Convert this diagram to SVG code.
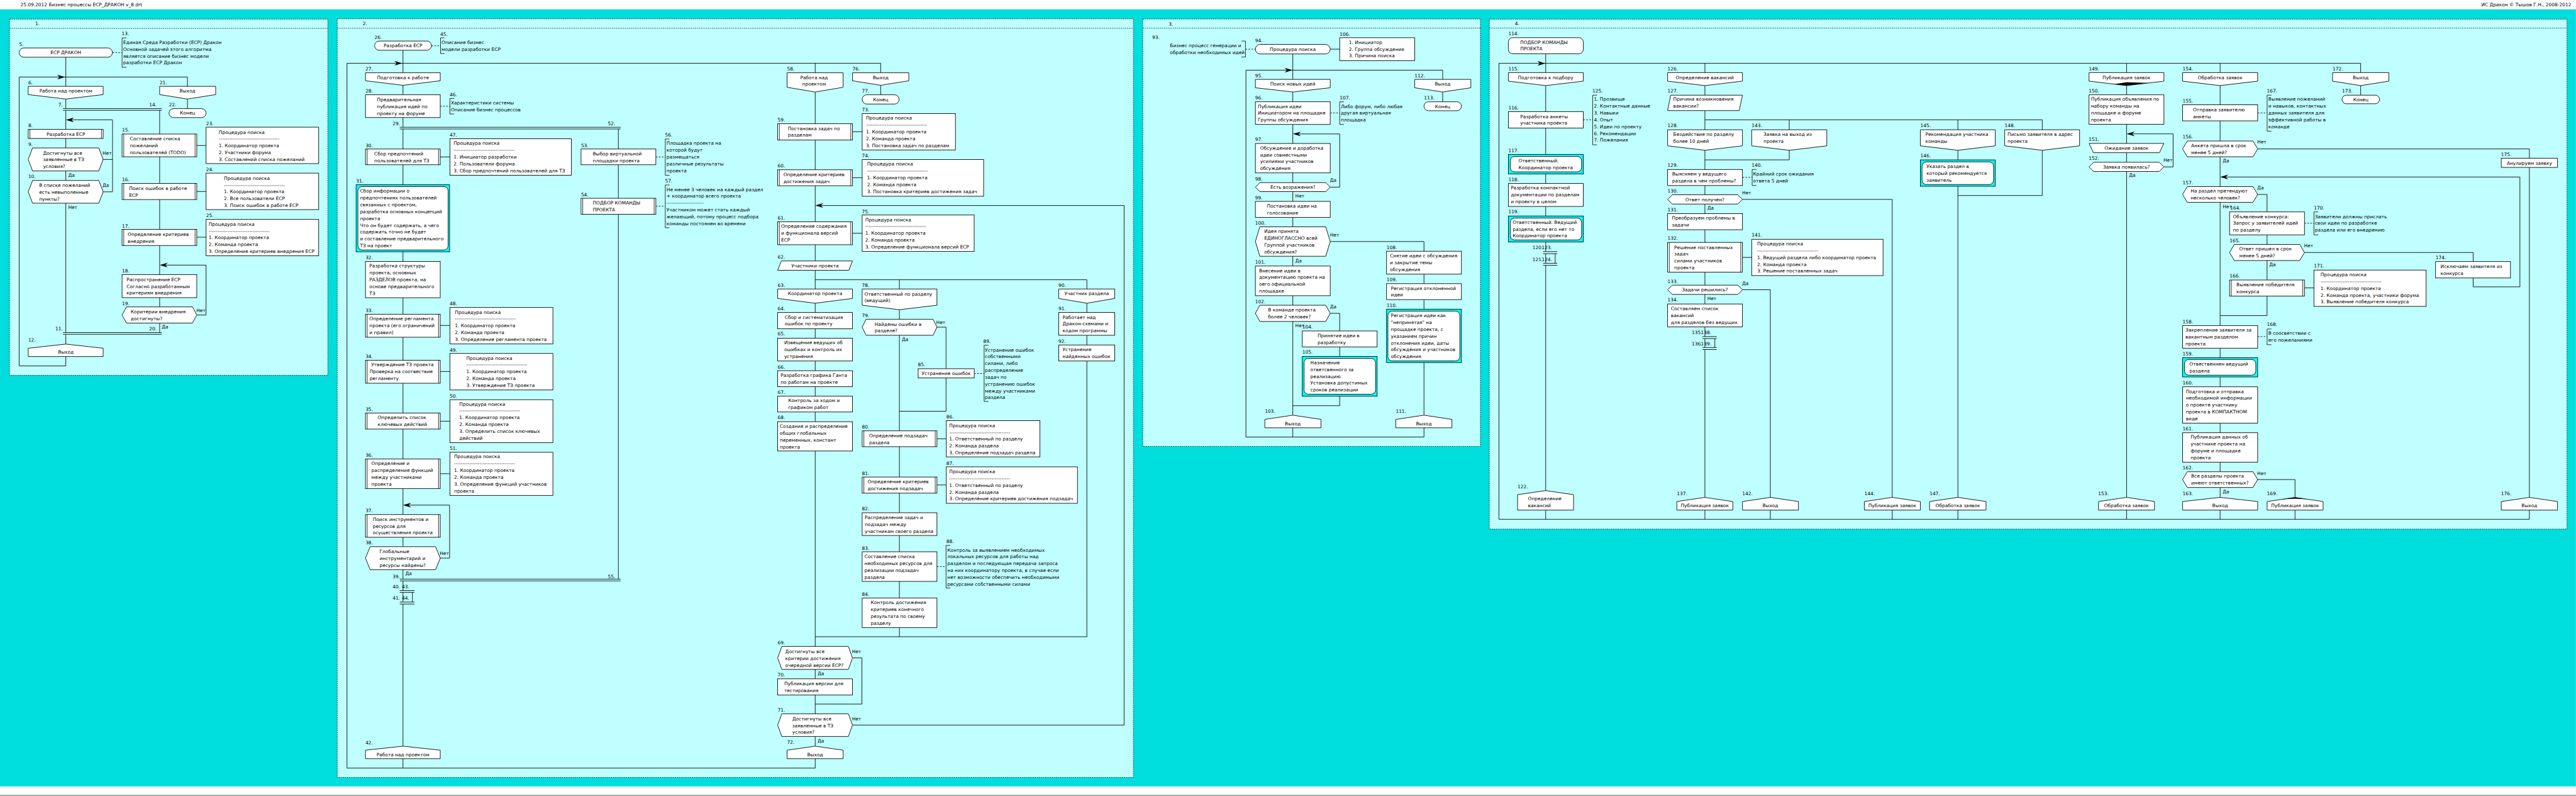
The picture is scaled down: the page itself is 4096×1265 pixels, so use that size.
<svg xmlns="http://www.w3.org/2000/svg" width="4096" height="1265" viewBox="0 0 4096 1265">
<style>
.n{fill:#fff;stroke:#000;stroke-width:1.3}
.hl{fill:#00FFFF;stroke:#000;stroke-width:1.3}
.c{fill:none;stroke:#000;stroke-width:1.3}
.d{fill:none;stroke:#000;stroke-width:1.2;stroke-dasharray:4 3}
.b{fill:none;stroke:#000;stroke-width:1.2}
.pf{fill:#BFFFFF;stroke:#000;stroke-width:1;stroke-dasharray:3 2}
.pd{fill:none;stroke:#000;stroke-width:1;stroke-dasharray:3 2}
.ar{fill:#000}
text{font-family:"DejaVu Sans","Liberation Sans",sans-serif;font-size:11px;fill:#000}
.m{text-anchor:middle}
</style>
<g transform="scale(0.677)">
<rect x="0" y="0" width="6050" height="1869" fill="#00DDDD"/>
<rect x="0" y="0" width="6050" height="22" fill="#fff"/>
<rect x="0" y="1846" width="6050" height="23" fill="#fff"/>
<line x1="0" y1="1867" x2="6050" y2="1867" stroke="#000" stroke-width="1"/>
<text x="48" y="15.5">25.09.2012  Бизнес процессы ЕСР_ДРАКОН v_8.drt</text>
<text x="6039" y="15.5" text-anchor="end">ИС Дракон © Тышов Г.Н., 2008-2012</text>

<g id="panels">
<rect class="pf" x="22.4" y="44.8" width="747.6" height="836.2"/><path class="pd" d="M22.4,66.6H770"/><text x="82.6" y="59.7">1.</text>
<rect class="pf" x="792" y="44" width="1870" height="1781"/><path class="pd" d="M792,66.4H2662"/><text x="852" y="59.2">2.</text>
<rect class="pf" x="2684" y="44.5" width="793" height="1003.5"/><path class="pd" d="M2684,66H3477"/><text x="2745" y="60.3">3.</text>
<rect class="pf" x="3498" y="45" width="2531" height="1197"/><path class="pd" d="M3498,66H6029"/><text x="3558" y="59.4">4.</text>
</g>

<g id="connectors">
<path class="c" d="M154.6,134.3V202.6M154.6,232.5V254.9M154.6,258.9V303.7M154.6,325V347.3M154.6,401.3V423.6M154.6,477V780.7M154.6,784.7V807.7M154.6,837V859H45V180.8H440.3V202.6M440.3,232.5V255M375,258.9V314.6M375,368V430.5M375,468.4V538.4M375,576.3V644.6M375,698.6V720.4M375,758.3V780.7M148,254.9H380M148,258.9H380M148,780.7H380M148,784.7H380M242.3,374.3H264.3M242.3,450.3H264.3V281.3H168M462.2,739.4H484V622.3H389M462.2,341.6H484M462.2,449.5H484M462.2,556.8H484"/>
<path class="d" d="M264,123.4H286.7"/>
<path class="c" d="M946.5,118V170.8M946.5,200.2V222.5M946.5,275.9V298.7M946.5,302.8V349.8M946.5,386.7V433.7M946.5,591V613.8M946.5,698.9V737.6M946.5,791.6V845.6M946.5,899.6V969.5M946.5,1007.2V1077.3M946.5,1146.8V1207.9M946.5,1261.2V1283.3M946.5,1337.2V1359.4M946.5,1363.6V1386.3M946.5,1390.5V1413.3M946.5,1418V1751.6M946.5,1781V1803M1914.7,1803H815V148.5H2068.4V170.8M1914.7,148.5V170.8M939,298.7H1457.8M939,302.8H1457.8M939,1359.4H1457.8M939,1363.6H1457.8M939,1386.3H973.5M939,1390.5H973.5M968.6,1390.5V1413.3M939,1413.3H973.5M939,1418H973.5M1452.3,302.8V349.8M1452.3,386.7V465.4M1452.3,502.9V1359.4M1034,368.5H1056.7M1034,764H1056.7M1034,872H1056.7M1034,988.7H1056.7M1034,1112H1056.7M1034,1310.2H1056V1185.7H960"/>
<path class="d" d="M1013.3,107.5H1034.7M1034,249.5H1056.7M1540.4,368.5H1562.5M1540.4,484.1H1562.5"/>
<path class="c" d="M1914.7,216V290.5M1914.7,328.7V398.5M1914.7,436V520.5M1914.7,574.5V612.6M1914.7,634.4V678.4M1914.7,711.8V733.5M1914.7,771.7V794M1914.7,847.4V870.2M1914.7,907.8V930M1914.7,967.1V989.9M1914.7,1058.7V1517.5M1914.7,1571.3V1593.5M1914.7,1631.3V1675.6M1914.7,1728.8V1751.6M1914.7,1781V1803M1914.7,656.7H2552.7M2112.4,656.7V678.4M2552.7,656.7V678.4M2112.4,727V749.4M2112.4,787V1011.4M2112.4,1048.6V1119.8M2112.4,1157.6V1203.7M2112.4,1257V1295.3M2112.4,1364.8V1403.7M2112.4,1473.2V1494.7M2200.6,768H2222V865.5M2222,887.2V965.3H2112.4M2552.7,711.8V733.5M2552.7,787V809.8M2552.7,847.4V1494.7M1914.7,1494.7H2552.7M2068.4,200.2V222.5M2002.2,309.3H2025M2002.2,417.3H2025M2002.2,547.5H2025M2200.6,1030H2222.6M2200.6,1138.4H2222.6M2002.2,1544.4H2024.3V1652.8H1914.7M2002.2,1702H2640.2V482.4H1928"/>
<path class="d" d="M2288.2,876.7H2311.4M2200.6,1330H2222"/>
<path class="c" d="M3036.4,126.6V186.3M3036.4,215.9V238.9M3036.4,292.1V336.8M3036.4,405.8V428.7M3036.4,449.8V472.7M3036.4,510.2V532.5M3036.4,601.5V624.5M3036.4,694.1V716.5M3036.4,754.6V974.6M3036.4,1004.2V1025.9M3344.5,1025.9H2926.3V164.7H3388.4V186.3M3388.4,215.9V238.9M3124.3,115.4H3146.5M3124.3,439.3H3146.5V314.4H3050M3124.3,567H3344.5V589.7M3344.5,643.5V665.9M3344.5,703.3V725.7M3344.5,851.1V974.6M3344.5,1004.2V1025.9M3124.3,735.5H3146.5V776.9M3146.5,814.3V836.7M3146.5,930V952.3H3036.4"/>
<path class="d" d="M2925.2,115.4H2948.5M3124.3,265.2H3146.5"/>
<path class="c" d="M3630.4,126.2V170.4M3630.4,200.9V262M3630.4,300.5V362.4M3630.4,408.2V430.7M3630.4,484.6V507M3630.4,568.1V590.6M3630.4,595.5V618M3630.4,622.8V1151.6M3630.4,1197.4V1219M5940.7,1219H3520.5V148.7H5544.5V170.4M4004.3,148.7V170.4M4994.7,148.7V170.4M5214.4,148.7V170.4M3624.3,590.6H3657.6M3624.3,595.5H3657.6M3652.6,595.5V618M3624.3,618H3657.6M3624.3,622.8H3657.6M4004.3,200.9V223.4M4004.3,259.6V304.6M4004.3,352.8V397.8M4004.3,435.5V457.2M4004.3,479V501.4M4004.3,539.2V569M4004.3,638.9V669.4M4004.3,691.1V713.6M4004.3,767.4V790M4004.3,794.8V815.7M4004.3,820.5V1167.6M4004.3,1197.4V1219M4004.3,281.3H4796.6M4202.4,281.3V304.6M4598.5,281.3V304.6M4796.6,281.3V304.6M4202.4,352.8V375.3H4004.3M4092.5,468.1H4444.3V1167.6M4444.3,1197.4V1219M4092.5,604.3H4114.2M4092.5,680.2H4158V1167.6M4158,1197.4V1219M3998.8,790H4032M3998.8,794.8H4032M4027.6,794.8V815.7M3998.8,815.7H4032M3998.8,820.5H4032M4598.5,352.8V375.3M4598.5,437.2V1167.6M4598.5,1197.4V1219M4796.6,352.8V458.9H4598.5M4994.7,200.9V222.6M4994.7,291.7V336.7M4994.7,358.4V380.9M4994.7,402.6V1167.6M4994.7,1197.4V1219M5082.4,391.8H5104V314.2H5008M5214.4,200.9V245.9M5214.4,283.7V331M5214.4,368V438M5214.4,475V764.2M5214.4,817.3V839.8M5214.4,884.8V908M5214.4,993.2V1015.8M5214.4,1084.8V1107.4M5214.4,1144.3V1167.6M5214.4,1197.4V1219M5302.6,349.6H5940.7V371.3M5940.7,393V1167.6M5940.7,1197.4V1219M5808.7,652.5V673.4H5918.5V415.5H5228M5302.6,456.5H5324.6V497.4M5324.6,551.3V573.8M5324.6,611.5V657.3M5324.6,695.1V740.9H5214.4M5412.5,592.7H5808.7V614M5412.5,675.8H5434.7M5302.6,1125.8H5390.3V1167.6M5390.3,1197.4V1219M5544.5,200.9V223.4"/>
<path class="d" d="M3718.6,281.3H3740.8M4092.5,416.3H4115.3M5302.6,265.2H5324.8M5412.5,524H5434.7M5302.6,790H5324.8"/>
<polygon class="ar" points="153,180.8 134,175.3 140,180.8 134,186.3"/>
<polygon class="ar" points="945,148.5 926,143 932,148.5 926,154"/>
<polygon class="ar" points="3035.9,164.7 3016.9,159.2 3022.9,164.7 3016.9,170.2"/>
<polygon class="ar" points="3629.8,148.7 3610.8,143.2 3616.8,148.7 3610.8,154.2"/>
<polygon class="ar" points="154.6,281.3 173.6,275.8 167.6,281.3 173.6,286.8"/>
<polygon class="ar" points="375,622.3 394,616.8 388,622.3 394,627.8"/>
<polygon class="ar" points="946.5,1185.7 965.5,1180.2 959.5,1185.7 965.5,1191.2"/>
<polygon class="ar" points="1914.7,482.4 1933.7,476.9 1927.7,482.4 1933.7,487.9"/>
<polygon class="ar" points="3036.4,314.4 3055.4,308.9 3049.4,314.4 3055.4,319.9"/>
<polygon class="ar" points="4994.7,314.2 5013.7,308.7 5007.7,314.2 5013.7,319.7"/>
<polygon class="ar" points="5214.4,415.5 5233.4,410 5227.4,415.5 5233.4,421"/>
<text x="240.8" y="362.8">Нет</text><text x="160.2" y="415">Да</text>
<text x="240.8" y="439">Да</text><text x="160.2" y="490.8">Нет</text>
<text x="461.2" y="732">Нет</text><text x="380.1" y="771.5">Да</text>
<text x="1032.9" y="1302.3">Нет</text><text x="952" y="1350">Да</text>
<text x="2198.8" y="760.4">Нет</text><text x="2118" y="800">Да</text>
<text x="2001" y="1532.8">Нет</text><text x="1920.2" y="1585">Да</text>
<text x="2001" y="1691">Нет</text><text x="1920.2" y="1743">Да</text>
<text x="3123.7" y="427.5">Да</text><text x="3042.2" y="463.6">Нет</text>
<text x="3123.7" y="555.6">Нет</text><text x="3042.2" y="615.4">Да</text>
<text x="3123.7" y="723.7">Да</text><text x="3042.2" y="767.4">Нет</text>
<text x="4091.4" y="456.4">Нет</text><text x="4009.9" y="491.8">Да</text>
<text x="4091.4" y="669.4">Да</text><text x="4009.9" y="704.7">Нет</text>
<text x="5081.3" y="379.3">Нет</text><text x="5000.3" y="415.4">Да</text>
<text x="5301.5" y="337.5">Нет</text><text x="5220.5" y="380.9">Да</text>
<text x="5301.5" y="444.4">Да</text><text x="5220.5" y="488.6">Нет</text>
<text x="5411.4" y="580.2">Нет</text><text x="5329.8" y="624.4">Да</text>
<text x="5301.5" y="1114.6">Нет</text><text x="5220.5" y="1158">Да</text>
</g>

<!-- PANEL 1 -->
<g id="n5"><rect class="n" x="45" y="112.5" width="219" height="21.8" rx="10.9"/><text x="45" y="107.3">5.</text><text class="m" x="154.6" y="127.4">ЕСР ДРАКОН</text></g>
<g id="n13"><path class="b" d="M297,89H286.7V158H297"/><text x="286" y="83.2">13.</text><text x="289.3" y="103.3">Единая Среда Разработки (ЕСР) Дракон<tspan x="289.3" dy="16">Основной задачей этого алгоритма</tspan><tspan x="289.3" dy="16">является описание бизнес модели</tspan><tspan x="289.3" dy="16">разработки ЕСР Дракон</tspan></text></g>
<g id="n6"><polygon class="n" points="66.3,202.6 242.3,202.6 242.3,222 154.6,232.5 66.3,222"/><text x="66.3" y="197.5">6.</text><text class="m" x="154.6" y="217.5">Работа над проектом</text></g>
<g id="n21"><polygon class="n" points="375,202.6 506.6,202.6 506.6,222 440.3,232.5 375,222"/><text x="375" y="197.5">21.</text><text class="m" x="440.3" y="217.5">Выход</text></g>
<g id="n22"><rect class="n" x="397" y="255" width="87" height="21" rx="10.5"/><text x="397" y="249.7">22.</text><text class="m" x="440.5" y="269.5">Конец</text></g>
<g id="n7"><text x="137" y="249.7">7.</text><text x="350.5" y="249.7">14.</text></g>
<g id="n8"><rect class="n" x="66.3" y="303.7" width="176" height="21.3"/><path class="b" d="M70.3,303.7V325M238.3,303.7V325"/><text x="66.3" y="298.5">8.</text><text class="m" x="154.6" y="318.6">Разработка ЕСР</text></g>
<g id="n9"><polygon class="n" points="66.3,374.3 76.5,347.3 232,347.3 242.3,374.3 232,401.3 76.5,401.3"/><text x="66.3" y="342.7">9.</text><text x="101" y="362.8">Достигнуты все<tspan x="101" dy="16">заявленные в ТЗ</tspan><tspan x="101" dy="16">условия?</tspan></text></g>
<g id="n10"><polygon class="n" points="66.3,450.3 76.5,423.6 232,423.6 242.3,450.3 232,477 76.5,477"/><text x="66.3" y="418.5">10.</text><text x="91.8" y="438.6">В списке пожеланий<tspan x="91.8" dy="16">есть невыполенные</tspan><tspan x="91.8" dy="16">пункты?</tspan></text></g>
<g id="n11"><text x="130" y="775.5">11.</text><text x="350.5" y="775.5">20.</text></g>
<g id="n12"><polygon class="n" points="66.3,837 66.3,817.5 154.6,807.7 242.3,817.5 242.3,837"/><text x="66.3" y="802.5">12.</text><text class="m" x="154.6" y="830.6">Выход</text></g>
<g id="n15"><rect class="n" x="286.7" y="314.6" width="175.5" height="53.4"/><path class="b" d="M290.7,314.6V368M458.2,314.6V368"/><text x="286.7" y="309.4">15.</text><text x="305" y="330">Составление списка<tspan x="305" dy="16">пожеланий</tspan><tspan x="305" dy="16">пользователей (TODO)</tspan></text></g>
<g id="n23"><rect class="n" x="484" y="298.5" width="264.5" height="85.5"/><text x="484" y="294">23.</text><text x="513.8" y="314">Процедура поиска<tspan x="513.8" dy="16">------------------------------------</tspan><tspan x="513.8" dy="16">1. Координатор проекта</tspan><tspan x="513.8" dy="16">2. Участники форума</tspan><tspan x="513.8" dy="16">3. Составлений списка пожеланий</tspan></text></g>
<g id="n16"><rect class="n" x="286.7" y="430.5" width="175.5" height="37.9"/><path class="b" d="M290.7,430.5V468.4M458.2,430.5V468.4"/><text x="286.7" y="426">16.</text><text x="303" y="446">Поиск ошибок в работе<tspan x="303" dy="16">ЕСР</tspan></text></g>
<g id="n24"><rect class="n" x="484" y="406.4" width="264.5" height="85.6"/><text x="484" y="401.8">24.</text><text x="526" y="422">Процедура поиска<tspan x="526" dy="16">------------------------------------</tspan><tspan x="526" dy="16">1. Координатор проекта</tspan><tspan x="526" dy="16">2. Все пользователи ЕСР</tspan><tspan x="526" dy="16">3. Поиск ошибок в работе ЕСР</tspan></text></g>
<g id="n17"><rect class="n" x="286.7" y="538.4" width="175.5" height="37.9"/><path class="b" d="M290.7,538.4V576.3M458.2,538.4V576.3"/><text x="286.7" y="534">17.</text><text x="300" y="554">Определение критериев<tspan x="300" dy="16">внедрения</tspan></text></g>
<g id="n25"><rect class="n" x="484" y="515" width="264.5" height="85.5"/><text x="484" y="509.7">25.</text><text x="490" y="530">Процедура поиска<tspan x="490" dy="16">------------------------------------</tspan><tspan x="490" dy="16">1. Координатор проекта</tspan><tspan x="490" dy="16">2. Команда проекта</tspan><tspan x="490" dy="16">3. Определение критериев внедрения ЕСР</tspan></text></g>
<g id="n18"><rect class="n" x="286.7" y="644.6" width="175.5" height="54"/><text x="286.7" y="639.5">18.</text><text x="297.4" y="660">Распространение ЕСР<tspan x="297.4" dy="16">Согласно разработанным</tspan><tspan x="297.4" dy="16">критериям внедрения</tspan></text></g>
<g id="n19"><polygon class="n" points="286.7,739.4 297,720.4 452,720.4 462.2,739.4 452,758.3 297,758.3"/><text x="286.7" y="715.8">19.</text><text x="307" y="736">Коритерии внедрения<tspan x="307" dy="16">достигнуты?</tspan></text></g>

<!-- PANEL 2 -->
<g id="n26"><rect class="n" x="879.8" y="96.3" width="133.5" height="21.7" rx="10.85"/><text x="879.8" y="91.5">26.</text><text class="m" x="946.5" y="111.5">Разработка ЕСР</text></g>
<g id="n45"><path class="b" d="M1044,88.7H1034.7V125.6H1044"/><text x="1034" y="84">45.</text><text x="1037" y="103.3">Описание бизнес<tspan x="1037" dy="16">модели разработки ЕСР</tspan></text></g>
<g id="n27"><polygon class="n" points="858.4,170.8 1034,170.8 1034,189.6 946.5,200.2 858.4,189.6"/><text x="858.4" y="166">27.</text><text class="m" x="946.5" y="186">Подготовка к работе</text></g>
<g id="n28"><rect class="n" x="858.4" y="222.5" width="175.6" height="53.4"/><text x="858.4" y="217.7">28.</text><text x="885.3" y="237.7">Предварительная<tspan x="885.3" dy="16">публикация идей по</tspan><tspan x="885.3" dy="16">проекту на форуме</tspan></text></g>
<g id="n46"><path class="b" d="M1066.7,231H1056.7V267.6H1066.7"/><text x="1056" y="226">46.</text><text x="1059" y="245.3">Характеристики системы<tspan x="1059" dy="16">Описание бизнес процессов</tspan></text></g>
<g id="n29"><text x="922" y="294">29.</text><text x="1427.8" y="294">52.</text></g>
<g id="n30"><rect class="n" x="858.4" y="349.8" width="175.6" height="36.9"/><path class="b" d="M862.4,349.8V386.7M1030,349.8V386.7"/><text x="858.4" y="345">30.</text><text x="879" y="364.5">Сбор предпочтений<tspan x="879" dy="16">пользователей для ТЗ</tspan></text></g>
<g id="n47"><rect class="n" x="1056.7" y="325.7" width="285.3" height="85.7"/><text x="1056" y="321">47.</text><text x="1065.3" y="340.4">Процедура поиска<tspan x="1065.3" dy="16">------------------------------------</tspan><tspan x="1065.3" dy="16">1. Инициатор разработки</tspan><tspan x="1065.3" dy="16">2. Пользователи форума</tspan><tspan x="1065.3" dy="16">3. Сбор предпочтений пользователей для ТЗ</tspan></text></g>
<g id="n31"><rect class="hl" x="836.3" y="433.7" width="219.7" height="157.3"/><rect class="n" x="840.6" y="437.8" width="211.9" height="149" rx="10"/><text x="836.3" y="429">31.</text><text x="845.5" y="452.5">Сбор информации о<tspan x="845.5" dy="16">предпочтениях пользователей</tspan><tspan x="845.5" dy="16">связанных с проектом,</tspan><tspan x="845.5" dy="16">разработка основных концепций</tspan><tspan x="845.5" dy="16">проекта</tspan><tspan x="845.5" dy="16">Что он будет содержать, а чего</tspan><tspan x="845.5" dy="16">содержать точно не будет</tspan><tspan x="845.5" dy="16">и составление предварительного</tspan><tspan x="845.5" dy="16">ТЗ на проект</tspan></text></g>
<g id="n32"><rect class="n" x="858.4" y="613.8" width="175.6" height="85.1"/><text x="858.4" y="609">32.</text><text x="867.6" y="628.5">Разработка структуры<tspan x="867.6" dy="16">проекта, основных</tspan><tspan x="867.6" dy="16">РАЗДЕЛОВ проекта, на</tspan><tspan x="867.6" dy="16">основе предварительного</tspan><tspan x="867.6" dy="16">ТЗ</tspan></text></g>
<g id="n33"><rect class="n" x="858.4" y="737.6" width="175.6" height="54"/><path class="b" d="M862.4,737.6V791.6M1030,737.6V791.6"/><text x="858.4" y="732.8">33.</text><text x="867.6" y="752.3">Определение регламента<tspan x="867.6" dy="16">проекта (его ограничений</tspan><tspan x="867.6" dy="16">и правил)</tspan></text></g>
<g id="n48"><rect class="n" x="1056.7" y="721.8" width="241.9" height="85.6"/><text x="1056" y="717">48.</text><text x="1068.4" y="736.4">Процедура поиска<tspan x="1068.4" dy="16">------------------------------------</tspan><tspan x="1068.4" dy="16">1. Координатор проекта</tspan><tspan x="1068.4" dy="16">2. Команда проекта</tspan><tspan x="1068.4" dy="16">3. Определение регламента проекта</tspan></text></g>
<g id="n34"><rect class="n" x="858.4" y="845.6" width="175.6" height="54"/><path class="b" d="M862.4,845.6V899.6M1030,845.6V899.6"/><text x="858.4" y="840.8">34.</text><text x="871.8" y="860.3">Утверждение ТЗ проекта</text><text x="868" y="876.3">Проверка на соотвествие<tspan x="868" dy="16">регламенту</tspan></text></g>
<g id="n49"><rect class="n" x="1056.7" y="829.7" width="241.9" height="85.7"/><text x="1056" y="825">49.</text><text x="1095.3" y="844.4">Процедура поиска<tspan x="1095.3" dy="16">------------------------------------</tspan><tspan x="1095.3" dy="16">1. Координатор проекта</tspan><tspan x="1095.3" dy="16">2. Команда проекта</tspan><tspan x="1095.3" dy="16">3. Утверждение ТЗ проекта</tspan></text></g>
<g id="n50"><rect class="n" x="1056.7" y="938.3" width="241.9" height="100.7"/><text x="1056" y="933">50.</text><text x="1078.8" y="952.2">Процедура поиска<tspan x="1078.8" dy="16">------------------------------------</tspan><tspan x="1078.8" dy="16">1. Координатор проекта</tspan><tspan x="1078.8" dy="16">2. Команда проекта</tspan><tspan x="1078.8" dy="16">3. Определить список ключевых</tspan><tspan x="1078.8" dy="16">действий</tspan></text></g>
<g id="n35"><rect class="n" x="858.4" y="969.5" width="175.6" height="37.7"/><path class="b" d="M862.4,969.5V1007.2M1030,969.5V1007.2"/><text x="858.4" y="964">35.</text><text x="887" y="983.9">Определить список<tspan x="887" dy="16">ключевых действий</tspan></text></g>
<g id="n36"><rect class="n" x="858.4" y="1077.3" width="175.6" height="69.5"/><path class="b" d="M862.4,1077.3V1146.8M1030,1077.3V1146.8"/><text x="858.4" y="1072.3">36.</text><text x="872.4" y="1091.7">Определение и<tspan x="872.4" dy="16">распределение функций</tspan><tspan x="872.4" dy="16">между участниками</tspan><tspan x="872.4" dy="16">проекта</tspan></text></g>
<g id="n51"><rect class="n" x="1056.7" y="1061.7" width="241.9" height="101.3"/><text x="1056" y="1056.8">51.</text><text x="1066.5" y="1076">Процедура поиска<tspan x="1066.5" dy="16">------------------------------------</tspan><tspan x="1066.5" dy="16">1. Координатор проекта</tspan><tspan x="1066.5" dy="16">2. Команда проекта</tspan><tspan x="1066.5" dy="16">3. Определение функций участников</tspan><tspan x="1066.5" dy="16">проекта</tspan></text></g>
<g id="n37"><rect class="n" x="858.4" y="1207.9" width="175.6" height="53.3"/><path class="b" d="M862.4,1207.9V1261.2M1030,1207.9V1261.2"/><text x="858.4" y="1202.3">37.</text><text x="875.5" y="1222.8">Поиск инструментов и<tspan x="875.5" dy="16">ресурсов для</tspan><tspan x="875.5" dy="16">осуществления проекта</tspan></text></g>
<g id="n38"><polygon class="n" points="858.4,1310.2 869.4,1283.3 1023,1283.3 1034,1310.2 1023,1337.2 869.4,1337.2"/><text x="858.4" y="1278.3">38.</text><text x="891.4" y="1298.3">Глобальные<tspan x="891.4" dy="16">инструментарий и</tspan><tspan x="891.4" dy="16">ресурсы найдены?</tspan></text></g>
<g id="n39"><text x="922" y="1358">39.</text><text x="1427.8" y="1358">55.</text></g>
<g id="n40"><text x="922" y="1381.3">40.</text><text x="944" y="1381.3">43.</text><text x="922" y="1408.3">41.</text><text x="944" y="1408.3">44.</text></g>
<g id="n42"><polygon class="n" points="858.4,1781 858.4,1761 946.5,1751.6 1034,1761 1034,1781"/><text x="858.4" y="1747">42.</text><text class="m" x="946.5" y="1774.8">Работа над проектом</text></g>
<g id="n53"><rect class="n" x="1364.7" y="349.8" width="175.7" height="36.9"/><text x="1364.7" y="345">53.</text><text x="1392.2" y="364.5">Выбор виртуальной<tspan x="1392.2" dy="16">площадки проекта</tspan></text></g>
<g id="n56"><path class="b" d="M1572.5,326.3H1562.5V411.4H1572.5"/><text x="1561.9" y="321">56.</text><text x="1565.5" y="340.4">Площадка проекта на<tspan x="1565.5" dy="16">которой будут</tspan><tspan x="1565.5" dy="16">размещаться</tspan><tspan x="1565.5" dy="16">различные результаты</tspan><tspan x="1565.5" dy="16">проекта</tspan></text></g>
<g id="n54"><rect class="n" x="1364.7" y="465.4" width="175.7" height="37.5"/><path class="b" d="M1368.7,465.4V502.9M1536.4,465.4V502.9"/><text x="1364.7" y="460.6">54.</text><text x="1392.2" y="480">ПОДБОР КОМАНДЫ<tspan x="1392.2" dy="16">ПРОЕКТА</tspan></text></g>
<g id="n57"><path class="b" d="M1572.5,434.3H1562.5V534.6H1572.5"/><text x="1561.9" y="429">57.</text><text x="1565.5" y="448.4">Не менее 3 человек на каждый раздел<tspan x="1565.5" dy="16">+ координатор всего проекта</tspan><tspan x="1565.5" dy="16">----------------------</tspan><tspan x="1565.5" dy="16">Участником может стать каждый</tspan><tspan x="1565.5" dy="16">желающий, потому процесс подбора</tspan><tspan x="1565.5" dy="16">команды постоянен во времени</tspan></text></g>
<g id="n58"><polygon class="n" points="1848.6,170.8 1980.2,170.8 1980.2,204.9 1914.7,216 1848.6,204.9"/><text x="1848.6" y="166">58.</text><text class="m" x="1912" y="185.5">Работа над<tspan class="m" x="1912" dy="16">проектом</tspan></text></g>
<g id="n76"><polygon class="n" points="2002.2,170.8 2134.5,170.8 2134.5,189.6 2068.4,200.2 2002.2,189.6"/><text x="2002.2" y="166">76.</text><text class="m" x="2068.4" y="186">Выход</text></g>
<g id="n77"><rect class="n" x="2025" y="222.5" width="86.8" height="21.7" rx="10.85"/><text x="2024.3" y="217.7">77.</text><text class="m" x="2068.4" y="237.4">Конец</text></g>
<g id="n73"><rect class="n" x="2025" y="266.5" width="219" height="85.5"/><text x="2024.3" y="261.7">73.</text><text x="2034" y="281">Процедура поиска<tspan x="2034" dy="16">------------------------------------</tspan><tspan x="2034" dy="16">1. Координатор проекта</tspan><tspan x="2034" dy="16">2. Команда проекта</tspan><tspan x="2034" dy="16">3. Постановка задач по разделам</tspan></text></g>
<g id="n59"><rect class="n" x="1826.5" y="290.5" width="175.7" height="38.2"/><path class="b" d="M1830.5,290.5V328.7M1998.2,290.5V328.7"/><text x="1826.5" y="285">59.</text><text x="1850.4" y="305.2">Постановка задач по<tspan x="1850.4" dy="16">разделам</tspan></text></g>
<g id="n74"><rect class="n" x="2025" y="374.4" width="285.2" height="86.3"/><text x="2024.3" y="369.6">74.</text><text x="2036.5" y="389">Процедура поиска<tspan x="2036.5" dy="16">------------------------------------</tspan><tspan x="2036.5" dy="16">1. Координатор проекта</tspan><tspan x="2036.5" dy="16">2. Команда проекта</tspan><tspan x="2036.5" dy="16">3. Постановка критериев достижения задач</tspan></text></g>
<g id="n60"><rect class="n" x="1826.5" y="398.5" width="175.7" height="37.5"/><path class="b" d="M1830.5,398.5V436M1998.2,398.5V436"/><text x="1826.5" y="393">60.</text><text x="1840" y="413.2">Определение критериев<tspan x="1840" dy="16">достижения задач</tspan></text></g>
<g id="n75"><rect class="n" x="2025" y="504.7" width="263" height="85.6"/><text x="2024.3" y="500">75.</text><text x="2032.2" y="519.4">Процедура поиска<tspan x="2032.2" dy="16">------------------------------------</tspan><tspan x="2032.2" dy="16">1. Координатор проекта</tspan><tspan x="2032.2" dy="16">2. Команда проекта</tspan><tspan x="2032.2" dy="16">3. Определение функционала версий ЕСР</tspan></text></g>
<g id="n61"><rect class="n" x="1826.5" y="520.5" width="175.7" height="54"/><path class="b" d="M1830.5,520.5V574.5M1998.2,520.5V574.5"/><text x="1826.5" y="515">61.</text><text x="1834.5" y="535.2">Определение содержания<tspan x="1834.5" dy="16">и функционала версий</tspan><tspan x="1834.5" dy="16">ЕСР</tspan></text></g>
<g id="n62"><polygon class="n" points="1835.1,612.6 2002.2,612.6 1993.7,634.4 1826.5,634.4"/><text x="1826.5" y="607.3">62.</text><text class="m" x="1914.2" y="627.8">Участники проекта</text></g>
<g id="n63"><polygon class="n" points="1826.5,678.4 2002.2,678.4 2002.2,700.6 1914.7,711.8 1826.5,700.6"/><text x="1826.5" y="673">63.</text><text class="m" x="1914.2" y="693.5">Координатор проекта</text></g>
<g id="n78"><polygon class="n" points="2025,678.4 2200.6,678.4 2200.6,716.5 2112.4,727 2025,716.5"/><text x="2024.3" y="673">78.</text><text x="2030.4" y="693.6">Ответственный по разделу<tspan x="2030.4" dy="16">(ведущий)</tspan></text></g>
<g id="n90"><polygon class="n" points="2486.6,678.4 2618.2,678.4 2618.2,700.6 2552.7,711.8 2486.6,700.6"/><text x="2486" y="673">90.</text><text class="m" x="2552.4" y="693.5">Участник раздела</text></g>
<g id="n64"><rect class="n" x="1826.5" y="733.5" width="175.7" height="38.2"/><text x="1826.5" y="728">64.</text><text x="1843" y="748.2">Сбор и систематизация<tspan x="1843" dy="16">ошибок по проекту</tspan></text></g>
<g id="n65"><rect class="n" x="1826.5" y="794" width="175.7" height="53.4"/><text x="1826.5" y="788">65.</text><text x="1841.8" y="808.6">Извещение ведущих об<tspan x="1841.8" dy="16">ошибках и контроль их</tspan><tspan x="1841.8" dy="16">устранения</tspan></text></g>
<g id="n66"><rect class="n" x="1826.5" y="870.2" width="175.7" height="37.6"/><text x="1826.5" y="865">66.</text><text x="1833.3" y="884.3">Разработка графика Ганта<tspan x="1833.3" dy="16">по работам на проекте</tspan></text></g>
<g id="n67"><rect class="n" x="1826.5" y="930" width="175.7" height="37.1"/><text x="1826.5" y="924.7">67.</text><text x="1851" y="944.4">Контроль за ходом и<tspan x="1851" dy="16">графиком работ</tspan></text></g>
<g id="n68"><rect class="n" x="1826.5" y="989.9" width="175.7" height="68.8"/><text x="1826.5" y="984.3">68.</text><text x="1831.4" y="1004.9">Создание и распределение<tspan x="1831.4" dy="16">общих глобальных</tspan><tspan x="1831.4" dy="16">переменных, констант</tspan><tspan x="1831.4" dy="16">проекта</tspan></text></g>
<g id="n69"><polygon class="n" points="1826.5,1544.4 1836.3,1517.5 1992.5,1517.5 2002.2,1544.4 1992.5,1571.3 1836.3,1571.3"/><text x="1826.5" y="1512.5">69.</text><text x="1844.3" y="1533">Достигнуты все<tspan x="1844.3" dy="16">критерии достижения</tspan><tspan x="1844.3" dy="16">очередной версии ЕСР?</tspan></text></g>
<g id="n70"><rect class="n" x="1826.5" y="1593.5" width="175.7" height="37.8"/><text x="1826.5" y="1588">70.</text><text x="1841.8" y="1609">Публикация версии для<tspan x="1841.8" dy="16">тестирования</tspan></text></g>
<g id="n71"><polygon class="n" points="1826.5,1702 1836.3,1675.6 1992.5,1675.6 2002.2,1702 1992.5,1728.8 1836.3,1728.8"/><text x="1826.5" y="1670">71.</text><text x="1860.8" y="1691">Достигнуты все<tspan x="1860.8" dy="16">заявленные в ТЗ</tspan><tspan x="1860.8" dy="16">условия?</tspan></text></g>
<g id="n72"><polygon class="n" points="1848.6,1781 1848.6,1761 1914.7,1751.6 1980.2,1761 1980.2,1781"/><text x="1848.6" y="1746">72.</text><text class="m" x="1914.4" y="1774.8">Выход</text></g>
<g id="n79"><polygon class="n" points="2025,768 2034.1,749.4 2191.5,749.4 2200.6,768 2191.5,787 2034.1,787"/><text x="2024.3" y="744">79.</text><text x="2054.3" y="764.6">Найдены ошибки в<tspan x="2054.3" dy="16">разделе?</tspan></text></g>
<g id="n85"><rect class="n" x="2156.5" y="865.5" width="131.7" height="21.7"/><text x="2156" y="860">85.</text><text class="m" x="2222.3" y="880.7">Устранение ошибок</text></g>
<g id="n89"><path class="b" d="M2321.4,810.4H2311.4V942.4H2321.4"/><text x="2309.6" y="804.4">89.</text><text x="2313.3" y="825">Устранение ошибок<tspan x="2313.3" dy="16">собственными</tspan><tspan x="2313.3" dy="16">силами, либо</tspan><tspan x="2313.3" dy="16">распределение</tspan><tspan x="2313.3" dy="16">задач по</tspan><tspan x="2313.3" dy="16">устранению ошибок</tspan><tspan x="2313.3" dy="16">между участниками</tspan><tspan x="2313.3" dy="16">раздела</tspan></text></g>
<g id="n91"><rect class="n" x="2486.6" y="733.5" width="131.6" height="53.5"/><text x="2486" y="728">91.</text><text x="2495.7" y="748.2">Работает над<tspan x="2495.7" dy="16">Дракон-схемами и</tspan><tspan x="2495.7" dy="16">кодом программы</tspan></text></g>
<g id="n92"><rect class="n" x="2486.6" y="809.8" width="131.6" height="37.6"/><text x="2486" y="804.4">92.</text><text x="2495.7" y="824.5">Устранение<tspan x="2495.7" dy="16">найденных ошибок</tspan></text></g>
<g id="n80"><rect class="n" x="2025" y="1011.4" width="175.6" height="37.2"/><path class="b" d="M2029,1011.4V1048.6M2196.6,1011.4V1048.6"/><text x="2024.3" y="1006.5">80.</text><text x="2041.4" y="1026.4">Определение подзадач<tspan x="2041.4" dy="16">раздела</tspan></text></g>
<g id="n86"><rect class="n" x="2222.6" y="987.5" width="219.9" height="85"/><text x="2222.6" y="982.5">86.</text><text x="2229.4" y="1002.5">Процедура поиска<tspan x="2229.4" dy="16">------------------------------------</tspan><tspan x="2229.4" dy="16">1. Ответственный по разделу</tspan><tspan x="2229.4" dy="16">2. Команда раздела</tspan><tspan x="2229.4" dy="16">3. Определение подзадач раздела</tspan></text></g>
<g id="n81"><rect class="n" x="2025" y="1119.8" width="175.6" height="37.8"/><path class="b" d="M2029,1119.8V1157.6M2196.6,1119.8V1157.6"/><text x="2024.3" y="1114.8">81.</text><text x="2037.8" y="1134.8">Определение критериев<tspan x="2037.8" dy="16">достижения подзадач</tspan></text></g>
<g id="n87"><rect class="n" x="2222.6" y="1095.9" width="308" height="85.6"/><text x="2222.6" y="1090.9">87.</text><text x="2229.4" y="1110.8">Процедура поиска<tspan x="2229.4" dy="16">------------------------------------</tspan><tspan x="2229.4" dy="16">1. Ответственный по разделу</tspan><tspan x="2229.4" dy="16">2. Команда раздела</tspan><tspan x="2229.4" dy="16">3. Определение критериев достижения подзадач</tspan></text></g>
<g id="n82"><rect class="n" x="2025" y="1203.7" width="175.6" height="53.3"/><text x="2024.3" y="1198">82.</text><text x="2031" y="1218.6">Распределение задач и<tspan x="2031" dy="16">подзадач между</tspan><tspan x="2031" dy="16">участникам своего раздела</tspan></text></g>
<g id="n83"><rect class="n" x="2025" y="1295.3" width="175.6" height="69.5"/><text x="2024.3" y="1290.3">83.</text><text x="2030.4" y="1310.3">Составление списка<tspan x="2030.4" dy="16">необходимых ресурсов для</tspan><tspan x="2030.4" dy="16">реализации подзадач</tspan><tspan x="2030.4" dy="16">раздела</tspan></text></g>
<g id="n88"><path class="b" d="M2232,1280.3H2222V1380.3H2232"/><text x="2222.6" y="1274.7">88.</text><text x="2225" y="1294.7">Контроль за выявлением необходимых<tspan x="2225" dy="16">локальных ресурсов для работы над</tspan><tspan x="2225" dy="16">разделом и последующая передача запроса</tspan><tspan x="2225" dy="16">на них координатору проекта, в случае если</tspan><tspan x="2225" dy="16">нет возможности обеспечить необходимыми</tspan><tspan x="2225" dy="16">ресурсами собственными силами</tspan></text></g>
<g id="n84"><rect class="n" x="2025" y="1403.7" width="175.6" height="69.5"/><text x="2024.3" y="1398.7">84.</text><text x="2045" y="1418.7">Контроль достижения<tspan x="2045" dy="16">критериев конечного</tspan><tspan x="2045" dy="16">результата по своему</tspan><tspan x="2045" dy="16">разделу</tspan></text></g>

<!-- PANEL 3 -->
<g id="n93"><text x="2706" y="91.8">93.</text><path class="b" d="M2916,96.3H2925.2V133.8H2916"/><text x="2747.9" y="111.5">Бизнес процесс генерации и<tspan x="2747.9" dy="16">обработки необходимых идей</tspan></text></g>
<g id="n94"><rect class="n" x="2948.5" y="104.2" width="175.8" height="22.4" rx="11.2"/><text x="2948" y="99.7">94.</text><text class="m" x="3036.4" y="119.4">Процедура поиска</text></g>
<g id="n106"><rect class="n" x="3146.5" y="88.5" width="176.3" height="53.8"/><text x="3146.5" y="84">106.</text><text x="3168.2" y="103">1. Инициатор<tspan x="3168.2" dy="16">2. Группа обсуждения</tspan><tspan x="3168.2" dy="16">3. Причина поиска</tspan></text></g>
<g id="n95"><polygon class="n" points="2948.5,186.3 3124.3,186.3 3124.3,206 3036.4,215.9 2948.5,206"/><text x="2948" y="181.8">95.</text><text class="m" x="3036.4" y="201.5">Поиск новых идей</text></g>
<g id="n112"><polygon class="n" points="3322.8,186.3 3454.6,186.3 3454.6,206 3388.4,215.9 3322.8,206"/><text x="3322.3" y="181.8">112.</text><text class="m" x="3388.4" y="201.5">Выход</text></g>
<g id="n113"><rect class="n" x="3344.5" y="238.9" width="87.9" height="21" rx="10.5"/><text x="3344.5" y="233.7">113.</text><text class="m" x="3388.4" y="253.4">Конец</text></g>
<g id="n96"><rect class="n" x="2948.5" y="238.9" width="175.8" height="53.2"/><text x="2948" y="233.7">96.</text><text x="2954.3" y="253.4">Публикация идеи<tspan x="2954.3" dy="16">Инициатором на площадке</tspan><tspan x="2954.3" dy="16">Группы обсуждения</tspan></text></g>
<g id="n107"><path class="b" d="M3156.5,238.9H3146.5V292.1H3156.5"/><text x="3146.5" y="233.7">107.</text><text x="3149.2" y="253.4">Либо форум, либо любая<tspan x="3149.2" dy="16">другая виртуальная</tspan><tspan x="3149.2" dy="16">площадка</tspan></text></g>
<g id="n97"><rect class="n" x="2948.5" y="336.8" width="175.8" height="69"/><text x="2948" y="331.6">97.</text><text x="2959.6" y="351.3">Обсуждение и доработка<tspan x="2959.6" dy="16">идеи совместными</tspan><tspan x="2959.6" dy="16">усилиями участников</tspan><tspan x="2959.6" dy="16">обсуждения</tspan></text></g>
<g id="n98"><polygon class="n" points="2948.5,439.3 2959,428.7 3113.7,428.7 3124.3,439.3 3113.7,449.8 2959,449.8"/><text x="2948" y="423.5">98.</text><text class="m" x="3036.4" y="443.3">Есть возражения?</text></g>
<g id="n99"><rect class="n" x="2948.5" y="472.7" width="175.8" height="37.5"/><text x="2948" y="467.6">99.</text><text x="2975.5" y="487.3">Постановка идеи на<tspan x="2975.5" dy="16">голосование</tspan></text></g>
<g id="n100"><polygon class="n" points="2948.5,567 2959,532.5 3113.7,532.5 3124.3,567 3113.7,601.5 2959,601.5"/><text x="2948" y="526.7">100.</text><text x="2969.2" y="547">Идея принята<tspan x="2969.2" dy="16">ЕДИНОГЛАССНО всей</tspan><tspan x="2969.2" dy="16">Группой участников</tspan><tspan x="2969.2" dy="16">обсуждения?</tspan></text></g>
<g id="n101"><rect class="n" x="2948.5" y="624.5" width="175.8" height="69.6"/><text x="2948" y="618.6">101.</text><text x="2957" y="639">Внесение идеи в<tspan x="2957" dy="16">документацию проекта на</tspan><tspan x="2957" dy="16">оего официальной</tspan><tspan x="2957" dy="16">площадке</tspan></text></g>
<g id="n102"><polygon class="n" points="2948.5,735.5 2959,716.5 3113.7,716.5 3124.3,735.5 3113.7,754.6 2959,754.6"/><text x="2948" y="711.3">102.</text><text x="2978.2" y="731.6">В команде проекта<tspan x="2978.2" dy="16">более 2 человек?</tspan></text></g>
<g id="n104"><rect class="n" x="3058.6" y="776.9" width="175.8" height="37.4"/><text x="3058.6" y="771">104.</text><text x="3094.6" y="791.4">Принятие идеи в<tspan x="3094.6" dy="16">разработку</tspan></text></g>
<g id="n105"><rect class="hl" x="3058.6" y="836.7" width="175.8" height="93.3"/><rect class="n" x="3062.8" y="841.3" width="167.9" height="84.1" rx="10"/><text x="3058.6" y="830.8">105.</text><text x="3077.7" y="855.1">Назначение<tspan x="3077.7" dy="16">ответсвенного за</tspan><tspan x="3077.7" dy="16">реализацию</tspan><tspan x="3077.7" dy="16">Установка допустимых</tspan><tspan x="3077.7" dy="16">сроков реализации</tspan></text></g>
<g id="n103"><polygon class="n" points="2970.7,1004.2 2970.7,984.5 3036.4,974.6 3102.6,984.5 3102.6,1004.2"/><text x="2970.7" y="968.8">103.</text><text class="m" x="3036.4" y="998">Выход</text></g>
<g id="n108"><rect class="n" x="3256.6" y="589.7" width="175.8" height="53.8"/><text x="3256.6" y="584.5">108.</text><text x="3264.5" y="604.2">Снятие идеи с обсуждения<tspan x="3264.5" dy="16">и закрытие темы</tspan><tspan x="3264.5" dy="16">обсуждения</tspan></text></g>
<g id="n109"><rect class="n" x="3256.6" y="665.9" width="175.8" height="37.4"/><text x="3256.6" y="660.7">109.</text><text x="3266.7" y="680.4">Регистрация отклоненной<tspan x="3266.7" dy="16">идеи</tspan></text></g>
<g id="n110"><rect class="hl" x="3256.6" y="725.7" width="175.8" height="125.4"/><rect class="n" x="3259.8" y="730.3" width="168.9" height="116.9" rx="10"/><text x="3256.6" y="720.5">110.</text><text x="3266.7" y="744.8">Регистрация идеи как<tspan x="3266.7" dy="16">&quot;непринятая&quot; на</tspan><tspan x="3266.7" dy="16">прощадке проекта, с</tspan><tspan x="3266.7" dy="16">указанием причин</tspan><tspan x="3266.7" dy="16">отклонения идеи, даты</tspan><tspan x="3266.7" dy="16">обсуждения и участников</tspan><tspan x="3266.7" dy="16">обсуждения</tspan></text></g>
<g id="n111"><polygon class="n" points="3278.3,1004.2 3278.3,984.5 3344.5,974.6 3410.1,984.5 3410.1,1004.2"/><text x="3278.3" y="968.8">111.</text><text class="m" x="3344.2" y="998">Выход</text></g>

<!-- PANEL 4 -->
<g id="n114"><rect class="n" x="3542.7" y="88.4" width="175.9" height="37.8" rx="10"/><text x="3542.7" y="82.8">114.</text><text x="3570.4" y="102.8">ПОДБОР КОМАНДЫ<tspan x="3570.4" dy="16">ПРОЕКТА</tspan></text></g>
<g id="n115"><polygon class="n" points="3542.7,170.4 3718.6,170.4 3718.6,190.5 3630.4,200.9 3542.7,190.5"/><text x="3542.7" y="164.7">115.</text><text class="m" x="3630" y="185.6">Подготовка к подбору</text></g>
<g id="n116"><rect class="n" x="3542.7" y="262" width="175.9" height="38.5"/><text x="3542.7" y="257">116.</text><text x="3570.4" y="277.2">Разработка анкеты<tspan x="3570.4" dy="16">участника проекта</tspan></text></g>
<g id="n125"><path class="b" d="M3750.8,223.4H3740.8V340H3750.8"/><text x="3740.2" y="217">125.</text><text x="3743.6" y="237">1. Прозвище<tspan x="3743.6" dy="16">2. Контактные данные</tspan><tspan x="3743.6" dy="16">3. Навыки</tspan><tspan x="3743.6" dy="16">4. Опыт</tspan><tspan x="3743.6" dy="16">5. Идеи по проекту</tspan><tspan x="3743.6" dy="16">6. Рекомендации</tspan><tspan x="3743.6" dy="16">7. Пожелания</tspan></text></g>
<g id="n117"><rect class="hl" x="3542.7" y="362.4" width="175.9" height="45.8"/><rect class="n" x="3547.1" y="367.2" width="167.6" height="36.2" rx="10"/><text x="3542.7" y="357.6">117.</text><text x="3566.6" y="380.9">Ответственный:<tspan x="3566.6" dy="16">Координатор проекта</tspan></text></g>
<g id="n118"><rect class="n" x="3542.7" y="430.7" width="175.9" height="53.9"/><text x="3542.7" y="425">118.</text><text x="3548.2" y="445.2">Разработка компактной<tspan x="3548.2" dy="16">документации по разделам</tspan><tspan x="3548.2" dy="16">и проекту в целом</tspan></text></g>
<g id="n119"><rect class="hl" x="3542.7" y="507" width="175.9" height="61.1"/><rect class="n" x="3547.1" y="511.9" width="167.6" height="51.4" rx="10"/><text x="3542.7" y="501.4">119.</text><text x="3552.7" y="525.5">Ответственный: Ведущий<tspan x="3552.7" dy="16">раздела, если его нет то</tspan><tspan x="3552.7" dy="16">Координатор проекта</tspan></text></g>
<g id="n120"><text x="3599.3" y="585">120.</text><text x="3621" y="585">123.</text><text x="3599.3" y="612.3">121.</text><text x="3621" y="612.3">124.</text></g>
<g id="n122"><polygon class="n" points="3564.3,1197.4 3564.3,1161.2 3630.4,1151.6 3695.8,1161.2 3695.8,1197.4"/><text x="3564.3" y="1146">122.</text><text x="3588.7" y="1174.8">Определение<tspan x="3588.7" dy="16">вакансий</tspan></text></g>
<g id="n126"><polygon class="n" points="3916.7,170.4 4092.5,170.4 4092.5,190.5 4004.3,200.9 3916.7,190.5"/><text x="3916.7" y="164.7">126.</text><text class="m" x="4004" y="185.6">Определение вакансий</text></g>
<g id="n127"><polygon class="n" points="3923.9,223.4 4092.5,223.4 4084.8,259.6 3916.7,259.6"/><text x="3916.7" y="217">127.</text><text x="3930" y="237">Причина возникновения<tspan x="3930" dy="16">вакансии?</tspan></text></g>
<g id="n128"><polygon class="n" points="3916.7,304.6 4092.5,304.6 4092.5,342.3 4004.3,352.8 3916.7,342.3"/><text x="3916.7" y="299">128.</text><text x="3930" y="319">Бездействие по разделу<tspan x="3930" dy="16">более 10 дней</tspan></text></g>
<g id="n143"><polygon class="n" points="4114.2,304.6 4290.6,304.6 4290.6,342.3 4202.4,352.8 4114.2,342.3"/><text x="4114.2" y="299">143.</text><text x="4141.9" y="319">Заявка на выход из<tspan x="4141.9" dy="16">проекта</tspan></text></g>
<g id="n129"><rect class="n" x="3916.7" y="397.8" width="175.8" height="37.7"/><text x="3916.7" y="392">129.</text><text x="3927.2" y="412.2">Выясняем у ведущего<tspan x="3927.2" dy="16">раздела в чем проблемы?</tspan></text></g>
<g id="n140"><path class="b" d="M4125.3,397.8H4115.3V435.5H4125.3"/><text x="4114.2" y="392">140.</text><text x="4117.5" y="412.2">Крайний срок ожидания<tspan x="4117.5" dy="16">ответа 5 дней</tspan></text></g>
<g id="n130"><polygon class="n" points="3916.7,468.1 3927.8,457.2 4081.5,457.2 4092.5,468.1 4081.5,479 3927.8,479"/><text x="3916.7" y="452.4">130.</text><text class="m" x="4004.3" y="472.5">Ответ получен?</text></g>
<g id="n131"><rect class="n" x="3916.7" y="501.4" width="175.8" height="37.8"/><text x="3916.7" y="495.8">131.</text><text x="3926.6" y="516">Преобразуем проблемы в<tspan x="3926.6" dy="16">задачи</tspan></text></g>
<g id="n132"><rect class="n" x="3916.7" y="569" width="175.8" height="69.9"/><path class="b" d="M3920.7,569V638.9M4088.5,569V638.9"/><text x="3916.7" y="563.3">132.</text><text x="3932.2" y="584.2">Решение поставленных<tspan x="3932.2" dy="16">задач</tspan><tspan x="3932.2" dy="16">силами участников</tspan><tspan x="3932.2" dy="16">проекта</tspan></text></g>
<g id="n141"><rect class="n" x="4114.2" y="561.7" width="308.5" height="85.2"/><text x="4114.2" y="556">141.</text><text x="4127" y="576.2">Процедура поиска<tspan x="4127" dy="16">------------------------------------</tspan><tspan x="4127" dy="16">1. Ведущий раздела либо координатор проекта</tspan><tspan x="4127" dy="16">2. Команда проекта</tspan><tspan x="4127" dy="16">3. Решение поставленных задач</tspan></text></g>
<g id="n133"><polygon class="n" points="3916.7,680.2 3927.8,669.4 4081.5,669.4 4092.5,680.2 4081.5,691.1 3927.8,691.1"/><text x="3916.7" y="664.5">133.</text><text class="m" x="4004.3" y="684.6">Задачи решились?</text></g>
<g id="n134"><rect class="n" x="3916.7" y="713.6" width="175.8" height="53.8"/><text x="3916.7" y="708">134.</text><text x="3924.4" y="728">Составляем список<tspan x="3924.4" dy="16">вакансий</tspan><tspan x="3924.4" dy="16">для разделов без ведущих</tspan></text></g>
<g id="n135"><text x="3973.3" y="784.3">135.</text><text x="3995" y="784.3">138.</text><text x="3973.3" y="810.8">136.</text><text x="3995" y="810.8">139.</text></g>
<g id="n137"><polygon class="n" points="3938.3,1197.4 3938.3,1177.3 4004.3,1167.6 4069.8,1177.3 4069.8,1197.4"/><text x="3938.3" y="1162">137.</text><text class="m" x="4004" y="1190.5">Публикация заявок</text></g>
<g id="n142"><polygon class="n" points="4092.5,1197.4 4092.5,1177.3 4158,1167.6 4224,1177.3 4224,1197.4"/><text x="4092" y="1162">142.</text><text class="m" x="4158" y="1190.5">Выход</text></g>
<g id="n144"><polygon class="n" points="4378.8,1197.4 4378.8,1177.3 4444.3,1167.6 4510.3,1177.3 4510.3,1197.4"/><text x="4378.8" y="1162">144.</text><text class="m" x="4444.5" y="1190.5">Публикация заявок</text></g>
<g id="n145"><polygon class="n" points="4510.3,304.6 4686.2,304.6 4686.2,342.3 4598.5,352.8 4510.3,342.3"/><text x="4510.3" y="299">145.</text><text x="4522" y="319">Рекомендация участника<tspan x="4522" dy="16">команды</tspan></text></g>
<g id="n148"><polygon class="n" points="4708.4,304.6 4884.3,304.6 4884.3,342.3 4796.6,352.8 4708.4,342.3"/><text x="4708.4" y="299">148.</text><text x="4715" y="319">Письмо заявителя в адрес<tspan x="4715" dy="16">проекта</tspan></text></g>
<g id="n146"><rect class="hl" x="4510.3" y="375.3" width="175.9" height="61.9"/><rect class="n" x="4514.2" y="380" width="168.1" height="53.1" rx="10"/><text x="4510.3" y="369.6">146.</text><text x="4524.7" y="394.6">Указать раздел в<tspan x="4524.7" dy="16">который рекомендуется</tspan><tspan x="4524.7" dy="16">заявитель</tspan></text></g>
<g id="n147"><polygon class="n" points="4532,1197.4 4532,1177.3 4598.5,1167.6 4664.6,1177.3 4664.6,1197.4"/><text x="4532" y="1162">147.</text><text class="m" x="4598.3" y="1190.5">Обработка заявок</text></g>
<g id="n149"><polygon class="n" points="4906.5,170.4 5082.4,170.4 5082.4,190.5 4994.7,200.9 4906.5,190.5"/><polygon class="ar" points="4965,197.4 4994.7,193 5047,194.6 4994.7,200.9"/><text x="4906" y="164.7">149.</text><text class="m" x="4994.5" y="185.6">Публикация заявок</text></g>
<g id="n150"><rect class="n" x="4906.5" y="222.6" width="175.9" height="69.1"/><text x="4906" y="217">150.</text><text x="4910.9" y="237">Публикация объявления по<tspan x="4910.9" dy="16">набору команды на</tspan><tspan x="4910.9" dy="16">площадке и форуме</tspan><tspan x="4910.9" dy="16">проекта</tspan></text></g>
<g id="n151"><polygon class="n" points="4906.5,336.7 5082.4,336.7 5071.8,358.4 4917,358.4"/><text x="4906" y="331">151.</text><text class="m" x="4994.5" y="351">Ожидание заявок</text></g>
<g id="n152"><polygon class="n" points="4906.5,391.8 4917.6,380.9 5071.3,380.9 5082.4,391.8 5071.3,402.6 4917.6,402.6"/><text x="4906" y="375.3">152.</text><text class="m" x="4994.5" y="395.5">Заявка появилась?</text></g>
<g id="n153"><polygon class="n" points="4928.7,1197.4 4928.7,1177.3 4994.7,1167.6 5060.2,1177.3 5060.2,1197.4"/><text x="4928" y="1162">153.</text><text class="m" x="4994.5" y="1190.5">Обработка заявок</text></g>
<g id="n154"><polygon class="n" points="5126.2,170.4 5302.6,170.4 5302.6,190.5 5214.4,200.9 5126.2,190.5"/><text x="5126.2" y="164.7">154.</text><text class="m" x="5214.4" y="185.6">Обработка заявок</text></g>
<g id="n155"><rect class="n" x="5126.2" y="245.9" width="176.4" height="37.8"/><text x="5126.2" y="241">155.</text><text x="5150.6" y="261.2">Отправка заявителю<tspan x="5150.6" dy="16">анкеты</tspan></text></g>
<g id="n167"><path class="b" d="M5334.8,223.4H5324.8V307.8H5334.8"/><text x="5324.3" y="217">167.</text><text x="5327.6" y="237">Выявление пожеланий<tspan x="5327.6" dy="16">и навыков, контактных</tspan><tspan x="5327.6" dy="16">данных заявителя для</tspan><tspan x="5327.6" dy="16">эффективной работы в</tspan><tspan x="5327.6" dy="16">команде</tspan></text></g>
<g id="n156"><polygon class="n" points="5126.2,349.6 5137.3,331 5291.5,331 5302.6,349.6 5291.5,368 5137.3,368"/><text x="5126.2" y="325.4">156.</text><text x="5146.2" y="345.5">Анкета пришла в срок<tspan x="5146.2" dy="16">менее 5 дней?</tspan></text></g>
<g id="n175"><rect class="n" x="5874.7" y="371.3" width="132" height="21.7"/><text x="5874.1" y="366.4">175.</text><text class="m" x="5940.7" y="386.5">Анулируем заявку</text></g>
<g id="n157"><polygon class="n" points="5126.2,456.5 5137.3,438 5291.5,438 5302.6,456.5 5291.5,475 5137.3,475"/><text x="5126.2" y="432.3">157.</text><text x="5145" y="452.4">На раздел претендуют<tspan x="5145" dy="16">несколько человек?</tspan></text></g>
<g id="n164"><rect class="n" x="5236.6" y="497.4" width="175.9" height="53.9"/><text x="5237.7" y="491.8">164.</text><text x="5244.4" y="511.9">Объявление конкурса:<tspan x="5244.4" dy="16">Запрос у заявителей идей</tspan><tspan x="5244.4" dy="16">по разделу</tspan></text></g>
<g id="n170"><path class="b" d="M5444.7,497.4H5434.7V551.3H5444.7"/><text x="5434.7" y="491.8">170.</text><text x="5436.9" y="511.9">Заявители должны прислать<tspan x="5436.9" dy="16">свои идеи по разработке</tspan><tspan x="5436.9" dy="16">раздела или его внедрению</tspan></text></g>
<g id="n165"><polygon class="n" points="5236.6,592.7 5247.7,573.8 5401.4,573.8 5412.5,592.7 5401.4,611.5 5247.7,611.5"/><text x="5236.6" y="568.1">165.</text><text x="5259.3" y="588.2">Ответ пришел в срок<tspan x="5259.3" dy="16">менее 5 дней?</tspan></text></g>
<g id="n174"><rect class="n" x="5720.4" y="614" width="175.9" height="38.5"/><text x="5720.4" y="609.1">174.</text><text x="5732" y="629.2">Исключаем заявителя из<tspan x="5732" dy="16">конкурса</tspan></text></g>
<g id="n166"><rect class="n" x="5236.6" y="657.3" width="175.9" height="37.8"/><path class="b" d="M5240.6,657.3V695.1M5408.5,657.3V695.1"/><text x="5236.6" y="651.7">166.</text><text x="5252.7" y="671.8">Выявление победителя<tspan x="5252.7" dy="16">конкурса</tspan></text></g>
<g id="n171"><rect class="n" x="5434.7" y="634" width="263.5" height="85.2"/><text x="5434.7" y="628.4">171.</text><text x="5450.2" y="648.5">Процедура поиска<tspan x="5450.2" dy="16">------------------------------------</tspan><tspan x="5450.2" dy="16">1. Координатор проекта</tspan><tspan x="5450.2" dy="16">2. Команда проекта, участники форума</tspan><tspan x="5450.2" dy="16">3. Выявление победителя конкурса</tspan></text></g>
<g id="n158"><rect class="n" x="5126.2" y="764.2" width="176.4" height="53.1"/><text x="5126.2" y="758.6">158.</text><text x="5132.9" y="778.7">Закрепление заявителя за<tspan x="5132.9" dy="16">вакантным разделом</tspan><tspan x="5132.9" dy="16">проекта</tspan></text></g>
<g id="n168"><path class="b" d="M5334.8,772.3H5324.8V809.2H5334.8"/><text x="5324.3" y="765.8">168.</text><text x="5327.6" y="786">В соосветствии с<tspan x="5327.6" dy="16">его пожеланиями</tspan></text></g>
<g id="n159"><rect class="hl" x="5126.2" y="839.8" width="176.4" height="45"/><rect class="n" x="5130.6" y="843.8" width="167.6" height="36.9" rx="10"/><text x="5126.2" y="834.1">159.</text><text x="5142.3" y="858.2">Отвественнен ведущий<tspan x="5142.3" dy="16">раздела</tspan></text></g>
<g id="n160"><rect class="n" x="5126.2" y="908" width="176.4" height="85.2"/><text x="5126.2" y="902.4">160.</text><text x="5134" y="922.5">Подготовка и отправка<tspan x="5134" dy="16">необходимой информации</tspan><tspan x="5134" dy="16">о проекте участнику</tspan><tspan x="5134" dy="16">проекта в КОМПАКТНОМ</tspan><tspan x="5134" dy="16">виде</tspan></text></g>
<g id="n161"><rect class="n" x="5126.2" y="1015.8" width="176.4" height="69"/><text x="5126.2" y="1010">161.</text><text x="5145" y="1030.2">Публикация данных об<tspan x="5145" dy="16">участнике проекта на</tspan><tspan x="5145" dy="16">форуме и площадке</tspan><tspan x="5145" dy="16">проекта</tspan></text></g>
<g id="n162"><polygon class="n" points="5126.2,1125.8 5137.3,1107.4 5291.5,1107.4 5302.6,1125.8 5291.5,1144.3 5137.3,1144.3"/><text x="5126.2" y="1101.7">162.</text><text x="5146.2" y="1121.8">Все разделы проекта<tspan x="5146.2" dy="16">имеют ответственных?</tspan></text></g>
<g id="n163"><polygon class="n" points="5126.2,1197.4 5126.2,1177.3 5214.4,1167.6 5302.6,1177.3 5302.6,1197.4"/><text x="5126.2" y="1162">163.</text><text class="m" x="5214.4" y="1190.5">Выход</text></g>
<g id="n169"><polygon class="n" points="5324.8,1197.4 5324.8,1177.3 5390.3,1167.6 5456.3,1177.3 5456.3,1197.4"/><polygon class="ar" points="5358,1172.1 5390.3,1167.6 5420,1172 5390.3,1170.6"/><text x="5324.3" y="1162">169.</text><text class="m" x="5390.5" y="1190.5">Публикация заявок</text></g>
<g id="n172"><polygon class="n" points="5478.5,170.4 5610.6,170.4 5610.6,190.5 5544.5,200.9 5478.5,190.5"/><text x="5478.5" y="164.7">172.</text><text class="m" x="5544.5" y="185.6">Выход</text></g>
<g id="n173"><rect class="n" x="5500.7" y="223.4" width="88.2" height="20.1" rx="10"/><text x="5500.7" y="217">173.</text><text class="m" x="5544.8" y="237.5">Конец</text></g>
<g id="n176"><polygon class="n" points="5874.7,1197.4 5874.7,1177.3 5940.7,1167.6 6006.7,1177.3 6006.7,1197.4"/><text x="5874.1" y="1162">176.</text><text class="m" x="5940.7" y="1190.5">Выход</text></g>
</g>
</svg>
